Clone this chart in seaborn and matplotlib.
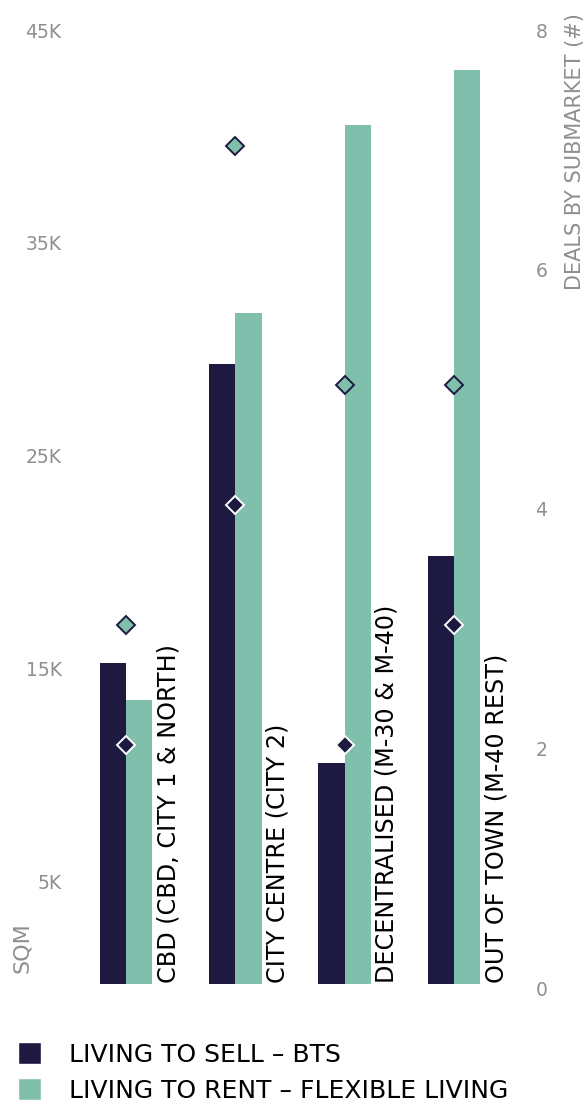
import matplotlib
matplotlib.use("Agg")
import matplotlib.pyplot as plt
import matplotlib.transforms as mtransforms
import seaborn as sns
import pandas as pd
import numpy as np
from matplotlib.patches import Patch

categories = ["CBD (CBD, CITY 1 & NORTH)", "CITY CENTRE (CITY 2)",
              "DECENTRALISED (M-30 & M-40)", "OUT OF TOWN (M-40 REST)"]
series_names = ["LIVING TO SELL – BTS", "LIVING TO RENT – FLEXIBLE LIVING"]
sell_sqm = [15100, 29100, 10400, 20100]
rent_sqm = [13350, 31500, 40350, 42950]
sell_deals = [2, 4, 2, 3]
rent_deals = [3, 7, 5, 5]
left_ticks = [5000, 15000, 25000, 35000, 45000]
left_labels = ["5K", "15K", "25K", "35K", "45K"]
right_ticks = [0, 2, 4, 6, 8]

DARK = "#1d1941"
GREEN = "#80bfac"
GREY = "#8f8f8f"

sns.set_theme(style="white")
plt.rcParams["font.family"] = ["DejaVu Sans"]

df = pd.DataFrame({
    "cat": categories * 2,
    "series": [series_names[0]] * 4 + [series_names[1]] * 4,
    "sqm": sell_sqm + rent_sqm,
})

W, H = 585, 1104
fig = plt.figure(figsize=(W / 100, H / 100), dpi=100)
ax_l, ax_r, ax_t, ax_b = 70, 530, 26, 984
ax = fig.add_axes([ax_l / W, 1 - ax_b / H, (ax_r - ax_l) / W, (ax_b - ax_t) / H])

sns.barplot(data=df, x="cat", y="sqm", hue="series", order=categories,
            hue_order=series_names, palette=[DARK, GREEN], width=0.48,
            gap=0, linewidth=0, saturation=1, ax=ax, legend=False)

ax.set_xlim(-0.512, 3.696)
ax.set_ylim(0, 45000)
ax.set_yticks(left_ticks)
ax.set_yticklabels(left_labels)
ax.set_xticks([])
ax.set_xlabel("")
ax.set_ylabel("")
ax.tick_params(axis="y", length=0, pad=6, labelsize=13.5, labelcolor=GREY)
for s in ax.spines.values():
    s.set_visible(False)

for i, c in enumerate(categories):
    ax.text(i + 0.385, 60, c, rotation=90, ha="center", va="bottom",
            fontsize=17.2, color="black")

ax2 = ax.twinx()
ax2.set_ylim(0, 8)
ax2.set_yticks(right_ticks)
ax2.tick_params(axis="y", length=0, pad=4, labelsize=13.5, labelcolor=GREY)
for s in ax2.spines.values():
    s.set_visible(False)

shift = mtransforms.ScaledTranslation(0, -4 / 100, fig.dpi_scale_trans)
for lab in ax.get_yticklabels() + ax2.get_yticklabels():
    lab.set_transform(lab.get_transform() + shift)

xpos = np.arange(len(categories))
ax2.plot(xpos, rent_deals, linestyle="none", marker="D", markersize=9,
         markerfacecolor=GREEN, markeredgecolor=DARK, markeredgewidth=1.4)
ax2.plot(xpos, sell_deals, linestyle="none", marker="D", markersize=9,
         markerfacecolor=DARK, markeredgecolor="white", markeredgewidth=1.4)

fig.text(22 / W, 1 - 948 / H, "SQM", rotation=90, ha="center", va="center",
         fontsize=16, color=GREY)
fig.text(575 / W, 1 - 152 / H, "DEALS BY SUBMARKET (#)", rotation=90,
         ha="center", va="center", fontsize=15, color=GREY)

handles = [Patch(facecolor=DARK), Patch(facecolor=GREEN)]
leg = fig.legend(handles, series_names, loc="upper left",
                 bbox_to_anchor=(18 / W, 1 - 1042 / H), frameon=False,
                 fontsize=18, handlelength=0.9, handleheight=1.0,
                 handletextpad=1.15, labelspacing=0.45, borderpad=0,
                 borderaxespad=0)
for t in leg.get_texts():
    t.set_color("black")

fig.savefig("out.png", dpi=100)
